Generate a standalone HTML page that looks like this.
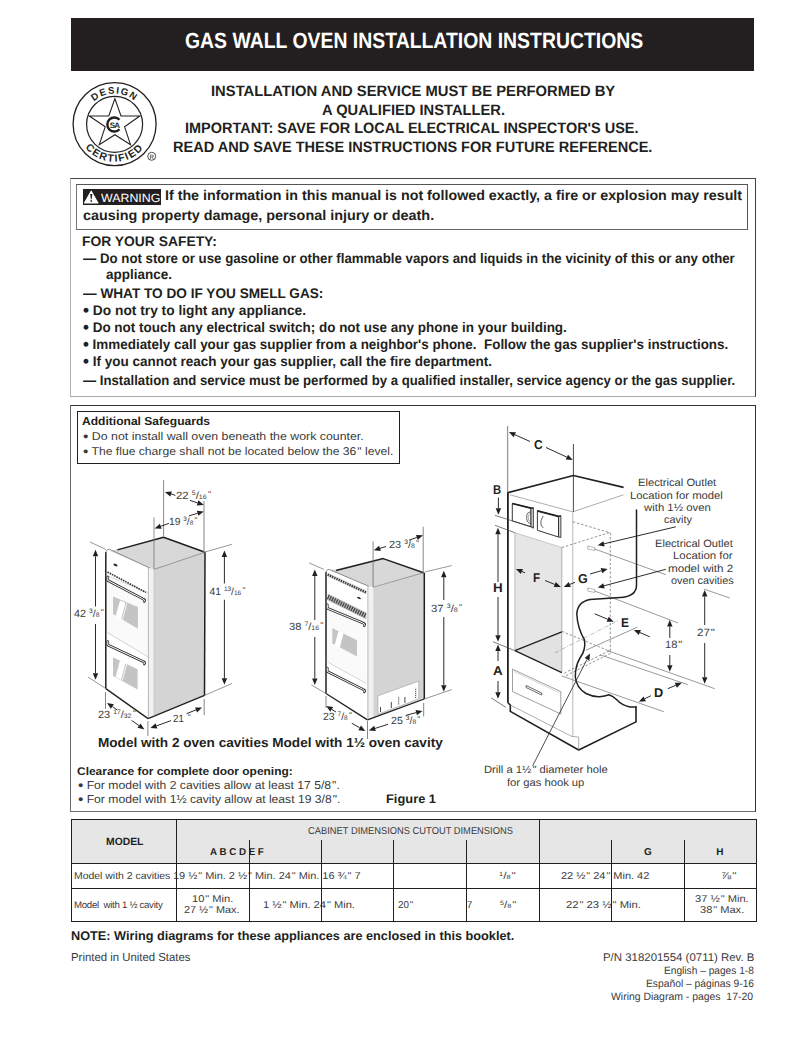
<!DOCTYPE html><html><head><meta charset="utf-8"><title>Gas Wall Oven Installation Instructions</title><style>
*{margin:0;padding:0;box-sizing:border-box}
html,body{width:802px;height:1037px;background:#fff;overflow:hidden}
body{position:relative;font-family:"Liberation Sans",sans-serif;color:#231f20;text-rendering:geometricPrecision}
.bx{position:absolute}
.t{position:absolute;white-space:pre;line-height:1;transform-origin:0 0}
.n{font-size:62%;vertical-align:0.55em;line-height:0}
.d{font-size:62%;line-height:0}
.q{font-size:80%;vertical-align:0.25em;margin-left:0.15em;line-height:0}
.bu{font-size:125%;line-height:0;vertical-align:-0.04em}
</style></head><body>
<div class="bx" style="left:71px;top:18px;width:683px;height:52.5px;background:#231f20"></div>
<div class="bx" style="left:70.4px;top:178px;width:685.6px;height:219px;border:1.1px solid;border-color:#454545 #404040 #a8a8a8 #b0b0b0"></div>
<div class="bx" style="left:76.1px;top:184.1px;width:671.7px;height:45.6px;border:1px solid;border-color:#555 #555 #666 #777"></div>
<div class="bx" style="left:83px;top:189px;width:77.8px;height:15.6px;background:#231f20"></div>
<svg style="position:absolute;left:0;top:0" width="802" height="1037"><polygon points="91.2,191.2 97.9,203 84.5,203" fill="#fff" stroke="#fff" stroke-width="1.2" stroke-linejoin="round"/><polygon points="90.2,194 92.3,194 91.7,199.3 90.8,199.3" fill="#231f20"/><rect x="90.5" y="200.2" width="1.5" height="1.6" fill="#231f20"/></svg>
<div class="bx" style="left:70.2px;top:404.8px;width:685.9px;height:407.1px;border:1.1px solid;border-color:#333 #333 #707070 #6a6a6a"></div>
<div class="bx" style="left:76.8px;top:411.4px;width:323.59999999999997px;height:52.400000000000034px;border:1px solid #231f20;"></div>
<div class="bx" style="left:71.4px;top:819.4px;width:685px;height:44px;background:#e6e6e6"></div>

<svg style="position:absolute;left:0;top:0" width="802" height="1037" viewBox="0 0 802 1037">
 <defs>
  <path id="arcT" d="M 83.8,124.3 A 30.8,30.8 0 0 1 145.4,124.3"/>
  <path id="arcB" d="M 77.1,124.3 A 37.5,37.5 0 0 0 152.1,124.3"/>
 </defs>
 <circle cx="114.6" cy="124.1" r="41.5" fill="none" stroke="#231f20" stroke-width="1.3"/>
 <circle cx="114.6" cy="124.3" r="28" fill="none" stroke="#231f20" stroke-width="1.2"/>
 <polygon points="114.9,98.6 121,116 139.8,116 124.6,126.8 130.5,144.7 114.9,134.7 99.3,144.7 105.2,126.8 89.3,116 108.8,116" fill="none" stroke="#231f20" stroke-width="1.1" stroke-linejoin="miter"/>
 <circle cx="113.8" cy="124.5" r="6.6" fill="#fff"/>
 <path d="M 119.5,119.8 A 7,7 0 1 0 119.5,129.2" fill="none" stroke="#231f20" stroke-width="2.4"/>
 <text x="114.6" y="127.6" font-family="Liberation Sans" font-weight="bold" font-size="8" text-anchor="middle" fill="#231f20" letter-spacing="-0.6">SA</text>
 <text font-family="Liberation Sans" font-weight="bold" font-size="9.6" fill="#231f20" letter-spacing="1.4"><textPath href="#arcT" startOffset="50%" text-anchor="middle">DESIGN</textPath></text>
 <text font-family="Liberation Sans" font-weight="bold" font-size="10.4" fill="#231f20" letter-spacing="1.4"><textPath href="#arcB" startOffset="50%" text-anchor="middle">CERTIFIED</textPath></text>
 <circle cx="151.7" cy="156.3" r="4" fill="none" stroke="#231f20" stroke-width="0.8"/>
 <text x="151.8" y="158.6" font-family="Liberation Sans" font-size="6.2" text-anchor="middle" fill="#231f20">R</text>
</svg>
<svg style="position:absolute;left:0;top:0" width="802" height="1037" viewBox="0 0 802 1037"><polygon points="110,551 163.5,537.2 205,552.2 154.1,569.4 149.6,568" fill="#d8d8d8" stroke="none" stroke-width="0.8" />
<polygon points="154.1,569.4 205,552.2 204.5,695.4 154.1,715.6" fill="#d4d4d4" stroke="none" stroke-width="0.8" />
<polygon points="149.6,568 154.1,569.4 154.1,715.6 148.1,718.6" fill="#f1f1f1" stroke="none" stroke-width="0.8" />
<polygon points="106,575 148.9,593.2 148.9,657.3 106,631.8" fill="#fafafa" stroke="none" stroke-width="0.8" />
<polygon points="113,596.4 137.9,606.9 137.9,628.8 113,613.9" fill="#c4c4c4" stroke="none" stroke-width="0.8" />
<polygon points="113,657.2 137.6,669.2 137.6,689.4 113,675.9" fill="#c4c4c4" stroke="none" stroke-width="0.8" />
<polygon points="120,600.4 125.5,602.8 121,619.5 115.5,616.5" fill="#fff" stroke="none" stroke-width="0.8" />
<polygon points="120,660.5 125.5,663 121,680 115.5,677" fill="#fff" stroke="none" stroke-width="0.8" />
<line x1="126.8" y1="603.5" x2="122.3" y2="620" stroke="#fff" stroke-width="0.8" />
<line x1="126.8" y1="663.7" x2="122.3" y2="680.5" stroke="#fff" stroke-width="0.8" />
<polyline points="117.4,549.9 163.5,537.2 205,552.2" stroke="#231f20" stroke-width="1.5" fill="none" stroke-linejoin="round" />
<line x1="205" y1="552.2" x2="204.5" y2="695.4" stroke="#231f20" stroke-width="1.5" />
<line x1="154.1" y1="569.4" x2="205" y2="552.2" stroke="#666" stroke-width="0.6" />
<line x1="148.1" y1="718.6" x2="204.5" y2="695.4" stroke="#231f20" stroke-width="1.3" />
<line x1="105.8" y1="552" x2="105.8" y2="688.6" stroke="#231f20" stroke-width="1.5" />
<line x1="105.8" y1="688.6" x2="148.1" y2="718.6" stroke="#231f20" stroke-width="1.3" />
<path d="M105.8,553 Q106,549 109.5,549.3 L149.6,567.9" stroke="#777" stroke-width="0.8" fill="none" stroke-linecap="round" stroke-linejoin="round" />
<line x1="148.4" y1="568" x2="148.4" y2="718.4" stroke="#888" stroke-width="0.6" />
<line x1="154.1" y1="569.4" x2="154.1" y2="715.6" stroke="#aaa" stroke-width="0.5" />
<line x1="106" y1="575" x2="148.9" y2="593.2" stroke="#aaa" stroke-width="0.5" />
<line x1="106" y1="631.8" x2="148.9" y2="657.3" stroke="#aaa" stroke-width="0.5" />
<line x1="107.5" y1="572" x2="145.9" y2="592.4" stroke="#333" stroke-width="1.6" stroke-dasharray="1.6,0.9"/>
<ellipse cx="115.5" cy="565" rx="2.2" ry="1" fill="#222" transform="rotate(25 115.5 565)"/>
<path d="M107.8,577 L107.8,580.5 L142.5,598.6999999999999 Q146,599.9 144.2,601.5" stroke="#333" stroke-width="2.6" fill="none" stroke-linecap="round" stroke-linejoin="round" />
<path d="M107.8,577 L107.8,580.5 L142.5,598.6999999999999 Q146,599.9 144.2,601.5" stroke="#fff" stroke-width="1.0" fill="none" stroke-linecap="round" stroke-linejoin="round" />
<path d="M107.8,641.5 L107.8,645.0 L142.5,661.1999999999999 Q146,662.4 144.2,664.0" stroke="#333" stroke-width="2.6" fill="none" stroke-linecap="round" stroke-linejoin="round" />
<path d="M107.8,641.5 L107.8,645.0 L142.5,661.1999999999999 Q146,662.4 144.2,664.0" stroke="#fff" stroke-width="1.0" fill="none" stroke-linecap="round" stroke-linejoin="round" />
<line x1="163.6" y1="480" x2="163.6" y2="536" stroke="#6a6a6a" stroke-width="0.8" />
<line x1="154" y1="517.4" x2="154" y2="569.4" stroke="#777" stroke-width="0.8" />
<line x1="204" y1="501" x2="204" y2="552" stroke="#9a9a9a" stroke-width="1.2" />
<line x1="175.4" y1="495.4" x2="171.08388186152257" y2="494.002399840874" stroke="#231f20" stroke-width="0.95" />
<polygon points="164.9,492 171.92,491.43 170.25,496.57" fill="#231f20" stroke="none" stroke-width="0.8" />
<line x1="189.9" y1="500.4" x2="197.61599397053396" y2="502.8979836595254" stroke="#231f20" stroke-width="0.95" />
<polygon points="203.8,504.9 196.78,505.47 198.45,500.33" fill="#231f20" stroke="none" stroke-width="0.8" />
<line x1="168.9" y1="523.4" x2="160.73574795252765" y2="526.2546335830323" stroke="#231f20" stroke-width="0.95" />
<polygon points="154.6,528.4 159.84,523.71 161.63,528.8" fill="#231f20" stroke="none" stroke-width="0.8" />
<line x1="188.9" y1="515.9" x2="197.5775879245541" y2="513.2792519690944" stroke="#231f20" stroke-width="0.95" />
<polygon points="203.8,511.4 198.36,515.86 196.8,510.69" fill="#231f20" stroke="none" stroke-width="0.8" />
<line x1="90" y1="542" x2="106" y2="549.5" stroke="#6a6a6a" stroke-width="0.7" />
<line x1="205" y1="552" x2="232" y2="544.3" stroke="#6a6a6a" stroke-width="0.7" />
<line x1="95.5" y1="606.5" x2="95.5" y2="556.3" stroke="#231f20" stroke-width="0.95" />
<polygon points="95.5,549.8 98.2,556.3 92.8,556.3" fill="#231f20" stroke="none" stroke-width="0.8" />
<line x1="95.5" y1="624" x2="95.5" y2="673.3" stroke="#231f20" stroke-width="0.95" />
<polygon points="95.5,679.8 92.8,673.3 98.2,673.3" fill="#231f20" stroke="none" stroke-width="0.8" />
<line x1="224.4" y1="583.4" x2="224.4" y2="557.0" stroke="#231f20" stroke-width="0.95" />
<polygon points="224.4,550.5 227.1,557.0 221.7,557.0" fill="#231f20" stroke="none" stroke-width="0.8" />
<line x1="224.4" y1="599.8" x2="224.4" y2="678.3" stroke="#231f20" stroke-width="0.95" />
<polygon points="224.4,684.8 221.7,678.3 227.1,678.3" fill="#231f20" stroke="none" stroke-width="0.8" />
<line x1="88" y1="677" x2="105.8" y2="688.6" stroke="#6a6a6a" stroke-width="0.7" />
<line x1="204.5" y1="695.4" x2="232" y2="683.5" stroke="#6a6a6a" stroke-width="0.7" />
<line x1="105.5" y1="692" x2="105.5" y2="709" stroke="#6a6a6a" stroke-width="0.8" />
<line x1="147.9" y1="721" x2="147.9" y2="736" stroke="#6a6a6a" stroke-width="0.8" />
<line x1="204.2" y1="699" x2="204.2" y2="715" stroke="#9a9a9a" stroke-width="1.2" />
<line x1="117.4" y1="710" x2="112.36829264599336" y2="706.5648920948609" stroke="#231f20" stroke-width="0.95" />
<polygon points="107,702.9 113.89,704.33 110.85,708.79" fill="#231f20" stroke="none" stroke-width="0.8" />
<line x1="131.6" y1="720.4" x2="139.08281047049007" y2="725.6613511120634" stroke="#231f20" stroke-width="0.95" />
<polygon points="144.4,729.4 137.53,727.87 140.64,723.45" fill="#231f20" stroke="none" stroke-width="0.8" />
<line x1="171" y1="720.6" x2="156.5077911108009" y2="725.8762896441259" stroke="#231f20" stroke-width="0.95" />
<polygon points="150.4,728.1 155.58,723.34 157.43,728.41" fill="#231f20" stroke="none" stroke-width="0.8" />
<line x1="186.5" y1="713.7" x2="196.05957549703572" y2="709.9006815332294" stroke="#231f20" stroke-width="0.95" />
<polygon points="202.1,707.5 197.06,712.41 195.06,707.39" fill="#231f20" stroke="none" stroke-width="0.8" />
<polygon points="330,570.5 383.2,558.6 423.6,572.7 373.1,587.3 368.6,586.2" fill="#d8d8d8" stroke="none" stroke-width="0.8" />
<polygon points="373.2,587.8 424.3,572.5 424.3,699 373.2,717.4" fill="#d4d4d4" stroke="none" stroke-width="0.8" />
<polygon points="368.6,586.2 373.2,587.8 373.2,717.4 367.5,719.9" fill="#f1f1f1" stroke="none" stroke-width="0.8" />
<polygon points="327,603 366.3,621 366.3,683.5 327,661" fill="#fafafa" stroke="none" stroke-width="0.8" />
<polygon points="332.3,627.9 357,640.2 357,656.5 332.3,643.3" fill="#c4c4c4" stroke="none" stroke-width="0.8" />
<polygon points="338.5,630.9 343.5,633.4 339.5,648.5 334.5,645.8" fill="#fff" stroke="none" stroke-width="0.8" />
<polygon points="377.9,695.8 418.8,681.1 418.8,698.9 377.9,714.3" fill="#fff" stroke="#999" stroke-width="0.6" />
<line x1="380.5" y1="707.12" x2="380.5" y2="712.12" stroke="#333" stroke-width="0.9" />
<line x1="391.3" y1="702.05" x2="391.3" y2="708.05" stroke="#333" stroke-width="0.9" />
<line x1="398.7" y1="697.27" x2="398.7" y2="705.27" stroke="#333" stroke-width="0.9" stroke-dasharray="1.2,0.8"/>
<line x1="404.9" y1="696.93" x2="404.9" y2="702.93" stroke="#333" stroke-width="0.9" />
<line x1="415.7" y1="688.87" x2="415.7" y2="698.87" stroke="#333" stroke-width="0.9" stroke-dasharray="1.2,0.8"/>
<polyline points="336.1,570.5 383.2,558.6 423.6,572.7" stroke="#231f20" stroke-width="1.5" fill="none" stroke-linejoin="round" />
<line x1="424.3" y1="572.7" x2="424.3" y2="699" stroke="#231f20" stroke-width="1.5" />
<line x1="373.1" y1="587.3" x2="423.6" y2="572.7" stroke="#666" stroke-width="0.6" />
<line x1="367.5" y1="719.9" x2="424.3" y2="699" stroke="#231f20" stroke-width="1.3" />
<line x1="326" y1="572" x2="326" y2="693.5" stroke="#231f20" stroke-width="1.5" />
<line x1="326" y1="693.5" x2="367.5" y2="719.9" stroke="#231f20" stroke-width="1.3" />
<path d="M326,573 Q326,569 329.5,569.5 L368.6,586.2" stroke="#777" stroke-width="0.8" fill="none" stroke-linecap="round" stroke-linejoin="round" />
<line x1="367.9" y1="586.5" x2="367.9" y2="719.7" stroke="#888" stroke-width="0.6" />
<line x1="326" y1="661" x2="366.3" y2="683.5" stroke="#aaa" stroke-width="0.5" />
<polygon points="327.7,572.8 366.3,590.6 366.3,594.4 327.7,576.6" fill="#cfcfcf" stroke="none" stroke-width="0.8" />
<line x1="327.7" y1="574.7" x2="366.3" y2="592.5" stroke="#3a3a3a" stroke-width="2.4" stroke-dasharray="1.3,1.1"/>
<polygon points="327.7,593.5 366.3,612.6 366.3,619.4 327.7,600.3" fill="#bdbdbd" stroke="none" stroke-width="0.8" />
<line x1="327.7" y1="596.9" x2="366.3" y2="616" stroke="#444" stroke-width="4.6" stroke-dasharray="1.3,1.1"/>
<ellipse cx="359" cy="598" rx="2" ry="0.9" fill="#222" transform="rotate(25 359 598)"/>
<path d="M327.3,604.8 L327.3,608.3 L362.5,622.8 Q366,624 364.2,625.6" stroke="#333" stroke-width="2.6" fill="none" stroke-linecap="round" stroke-linejoin="round" />
<path d="M327.3,604.8 L327.3,608.3 L362.5,622.8 Q366,624 364.2,625.6" stroke="#fff" stroke-width="1.0" fill="none" stroke-linecap="round" stroke-linejoin="round" />
<path d="M327.3,668 L327.3,671.5 L362.5,689.1999999999999 Q366,690.4 364.2,692.0" stroke="#333" stroke-width="2.6" fill="none" stroke-linecap="round" stroke-linejoin="round" />
<path d="M327.3,668 L327.3,671.5 L362.5,689.1999999999999 Q366,690.4 364.2,692.0" stroke="#fff" stroke-width="1.0" fill="none" stroke-linecap="round" stroke-linejoin="round" />
<line x1="373.1" y1="541.3" x2="373.1" y2="587" stroke="#6a6a6a" stroke-width="0.8" />
<line x1="423.2" y1="526.7" x2="423.2" y2="572.7" stroke="#6a6a6a" stroke-width="0.8" />
<line x1="386" y1="546.5" x2="380.0059274111004" y2="548.3670062162146" stroke="#231f20" stroke-width="0.95" />
<polygon points="373.8,550.3 379.2,545.79 380.81,550.94" fill="#231f20" stroke="none" stroke-width="0.8" />
<line x1="409" y1="540.2" x2="416.8649206836209" y2="537.4472777607327" stroke="#231f20" stroke-width="0.95" />
<polygon points="423,535.3 417.76,540.0 415.97,534.9" fill="#231f20" stroke="none" stroke-width="0.8" />
<line x1="309.2" y1="563" x2="324" y2="569.4" stroke="#6a6a6a" stroke-width="0.7" />
<line x1="424.7" y1="572" x2="451.7" y2="565.6" stroke="#6a6a6a" stroke-width="0.7" />
<line x1="314.8" y1="620" x2="314.8" y2="576.1" stroke="#231f20" stroke-width="0.95" />
<polygon points="314.8,569.6 317.5,576.1 312.1,576.1" fill="#231f20" stroke="none" stroke-width="0.8" />
<line x1="314.8" y1="637" x2="314.8" y2="678.5" stroke="#231f20" stroke-width="0.95" />
<polygon points="314.8,685 312.1,678.5 317.5,678.5" fill="#231f20" stroke="none" stroke-width="0.8" />
<line x1="443.8" y1="600" x2="443.8" y2="577.2" stroke="#231f20" stroke-width="0.95" />
<polygon points="443.8,570.7 446.5,577.2 441.1,577.2" fill="#231f20" stroke="none" stroke-width="0.8" />
<line x1="443.8" y1="617" x2="443.8" y2="685.3" stroke="#231f20" stroke-width="0.95" />
<polygon points="443.8,691.8 441.1,685.3 446.5,685.3" fill="#231f20" stroke="none" stroke-width="0.8" />
<line x1="311.4" y1="685" x2="326" y2="693.5" stroke="#6a6a6a" stroke-width="0.7" />
<line x1="424.3" y1="699" x2="451.7" y2="689.6" stroke="#6a6a6a" stroke-width="0.7" />
<line x1="367.5" y1="721" x2="367.5" y2="739" stroke="#6a6a6a" stroke-width="0.8" />
<line x1="423.6" y1="703" x2="423.6" y2="716.5" stroke="#9a9a9a" stroke-width="1.2" />
<line x1="326" y1="696" x2="326" y2="708" stroke="#6a6a6a" stroke-width="0.8" />
<line x1="336" y1="712" x2="331.7435334764957" y2="709.3940000876504" stroke="#231f20" stroke-width="0.95" />
<polygon points="326.2,706 333.15,707.09 330.33,711.7" fill="#231f20" stroke="none" stroke-width="0.8" />
<line x1="351.8" y1="723.2" x2="359.6899641127041" y2="727.8170901103972" stroke="#231f20" stroke-width="0.95" />
<polygon points="365.3,731.1 358.33,730.15 361.05,725.49" fill="#231f20" stroke="none" stroke-width="0.8" />
<line x1="388" y1="724.3" x2="374.99486448121496" y2="728.4318399304473" stroke="#231f20" stroke-width="0.95" />
<polygon points="368.8,730.4 374.18,725.86 375.81,731.01" fill="#231f20" stroke="none" stroke-width="0.8" />
<line x1="405.7" y1="715.4" x2="416.22133766522893" y2="712.5817845539565" stroke="#231f20" stroke-width="0.95" />
<polygon points="422.5,710.9 416.92,715.19 415.52,709.97" fill="#231f20" stroke="none" stroke-width="0.8" />
<polygon points="514.9,532.7 561.8,547.5 561.8,672.7 514.9,650.7" fill="#e6e6e6" stroke="none" stroke-width="0.8" />
<polygon points="514.9,650.7 561.8,631.8 561.8,672.7" fill="#e2e2e2" stroke="none" stroke-width="0.8" />
<line x1="514.9" y1="532.7" x2="514.9" y2="650.7" stroke="#999" stroke-width="0.6" />
<line x1="561.8" y1="547.5" x2="561.8" y2="672.7" stroke="#888" stroke-width="0.6" />
<line x1="514.9" y1="650.7" x2="561.8" y2="631.8" stroke="#231f20" stroke-width="1.3" />
<line x1="514.9" y1="650.7" x2="561.8" y2="672.7" stroke="#231f20" stroke-width="1.3" />
<line x1="507.6" y1="426" x2="507.6" y2="493" stroke="#9a9a9a" stroke-width="1.3" />
<line x1="507.9" y1="492.8" x2="507.9" y2="702.8" stroke="#231f20" stroke-width="1.8" />
<polyline points="507.5,492.8 573.4,475.5 623.6,487.4" stroke="#231f20" stroke-width="1.6" fill="none" stroke-linejoin="round" />
<polyline points="509.9,494.8 572.8,511.8 623.6,494.8" stroke="#777" stroke-width="0.6" fill="none" stroke-linejoin="round" />
<line x1="573.4" y1="444" x2="573.4" y2="511.8" stroke="#333" stroke-width="0.9" />
<line x1="572.8" y1="511.8" x2="572.8" y2="736.5" stroke="#888" stroke-width="0.6" />
<line x1="530" y1="441.5" x2="514.8269640783495" y2="434.6685383291147" stroke="#231f20" stroke-width="0.95" />
<polygon points="508.9,432 515.94,432.21 513.72,437.13" fill="#231f20" stroke="none" stroke-width="0.8" />
<line x1="546" y1="447.5" x2="566.9008436305214" y2="457.1705395902412" stroke="#231f20" stroke-width="0.95" />
<polygon points="572.8,459.9 565.77,459.62 568.03,454.72" fill="#231f20" stroke="none" stroke-width="0.8" />
<polygon points="512.3,503.5 531,508.2 531,526.8 512.3,520.9" fill="#fff" stroke="#231f20" stroke-width="0.9" />
<polygon points="531,508.2 533.4,507.8 533.4,528.2 531,526.8" fill="#d0d0d0" stroke="#231f20" stroke-width="0.8" />
<line x1="512.3" y1="503.5" x2="531" y2="508.2" stroke="#231f20" stroke-width="1.8" />
<line x1="531" y1="508.2" x2="533.4" y2="507.8" stroke="#231f20" stroke-width="1.2" />
<polygon points="537.4,510.8 558.5,516.4 558.5,537 537.4,530.3" fill="#fff" stroke="#231f20" stroke-width="0.9" />
<polygon points="558.5,516.4 560.9,515.8 560.9,537.5 558.5,537" fill="#d0d0d0" stroke="#231f20" stroke-width="0.8" />
<line x1="537.4" y1="510.8" x2="558.5" y2="516.4" stroke="#231f20" stroke-width="1.8" />
<line x1="558.5" y1="516.4" x2="560.9" y2="515.8" stroke="#231f20" stroke-width="1.2" />
<path d="M530.6,512 Q526.6,511.6 526.6,517.4 Q526.6,523.2 530.6,523.6" stroke="#444" stroke-width="0.8" fill="none" stroke-linecap="round" stroke-linejoin="round" />
<path d="M530.6,513.6 Q528.2,513.4 528.2,517.6 Q528.2,521.8 530.6,522" stroke="#666" stroke-width="0.6" fill="none" stroke-linecap="round" stroke-linejoin="round" />
<path d="M543,516.2 Q539.8,520.5 541,525 Q541.8,527.2 543,527.4" stroke="#444" stroke-width="0.8" fill="none" stroke-linecap="round" stroke-linejoin="round" />
<line x1="498.4" y1="497.5" x2="498.4" y2="508.29999999999995" stroke="#231f20" stroke-width="0.95" />
<polygon points="498.4,514.8 495.7,508.3 501.1,508.3" fill="#231f20" stroke="none" stroke-width="0.8" />
<line x1="495" y1="515.4" x2="533.9" y2="527.7" stroke="#444" stroke-width="0.7" />
<line x1="495" y1="525.3" x2="514.9" y2="532.7" stroke="#444" stroke-width="0.7" />
<line x1="514.9" y1="532.7" x2="561.8" y2="547.5" stroke="#aaa" stroke-width="0.6" />
<line x1="498" y1="582" x2="498.0" y2="534.2" stroke="#231f20" stroke-width="0.95" />
<polygon points="498,527.7 500.7,534.2 495.3,534.2" fill="#231f20" stroke="none" stroke-width="0.8" />
<line x1="498" y1="597" x2="498.0" y2="635.2" stroke="#231f20" stroke-width="0.95" />
<polygon points="498,641.7 495.3,635.2 500.7,635.2" fill="#231f20" stroke="none" stroke-width="0.8" />
<line x1="493" y1="641.7" x2="514.9" y2="650.7" stroke="#444" stroke-width="0.7" />
<line x1="498" y1="661" x2="498.0" y2="651.0" stroke="#231f20" stroke-width="0.95" />
<polygon points="498,644.5 500.7,651.0 495.3,651.0" fill="#231f20" stroke="none" stroke-width="0.8" />
<line x1="498" y1="681" x2="498.0" y2="692.3" stroke="#231f20" stroke-width="0.95" />
<polygon points="498,698.8 495.3,692.3 500.7,692.3" fill="#231f20" stroke="none" stroke-width="0.8" />
<line x1="491.2" y1="697.9" x2="505.8" y2="707.3" stroke="#444" stroke-width="0.7" />
<line x1="525" y1="572.8" x2="521.8744426951174" y2="571.4604754407645" stroke="#231f20" stroke-width="0.95" />
<polygon points="515.9,568.9 522.94,568.98 520.81,573.94" fill="#231f20" stroke="none" stroke-width="0.8" />
<line x1="545" y1="580.5" x2="554.775477390098" y2="584.4596870440903" stroke="#231f20" stroke-width="0.95" />
<polygon points="560.8,586.9 553.76,586.96 555.79,581.96" fill="#231f20" stroke="none" stroke-width="0.8" />
<line x1="575" y1="582.3" x2="569.8126288194599" y2="584.4305274491503" stroke="#231f20" stroke-width="0.95" />
<polygon points="563.8,586.9 568.79,581.93 570.84,586.93" fill="#231f20" stroke="none" stroke-width="0.8" />
<line x1="590" y1="574" x2="601.4541047962241" y2="570.699664719732" stroke="#231f20" stroke-width="0.95" />
<polygon points="607.7,568.9 602.2,573.29 600.71,568.11" fill="#231f20" stroke="none" stroke-width="0.8" />
<line x1="572.8" y1="521.7" x2="609.7" y2="532.7" stroke="#666" stroke-width="0.7" stroke-dasharray="2.5,1.8"/>
<line x1="610.3" y1="532.7" x2="610.3" y2="652" stroke="#666" stroke-width="0.7" stroke-dasharray="2.5,1.8"/>
<line x1="561.8" y1="631.3" x2="610.3" y2="651.5" stroke="#666" stroke-width="0.7" stroke-dasharray="2.5,1.8"/>
<line x1="564.4" y1="673.1" x2="610.3" y2="650.2" stroke="#666" stroke-width="0.7" stroke-dasharray="2.5,1.8"/>
<line x1="566" y1="675.6" x2="611.5" y2="652.8" stroke="#666" stroke-width="0.7" stroke-dasharray="2.5,1.8"/>
<line x1="561.8" y1="547.5" x2="610.3" y2="532.3" stroke="#666" stroke-width="0.7" stroke-dasharray="2.5,1.8"/>
<line x1="555" y1="652.9" x2="618.4" y2="620.5" stroke="#777" stroke-width="0.5" stroke-dasharray="4,1.5,1,1.5"/>
<line x1="586" y1="650.2" x2="637.3" y2="627.2" stroke="#555" stroke-width="0.6" />
<polygon points="587.7,546 594.7,547.5 594.7,550.5 587.7,549" fill="#fff" stroke="#888" stroke-width="0.6" />
<polygon points="587.7,588 594.7,589.5 594.7,592.5 587.7,591" fill="#fff" stroke="#888" stroke-width="0.6" />
<line x1="594.7" y1="549" x2="665.8" y2="574.7" stroke="#555" stroke-width="0.6" />
<line x1="594.7" y1="591" x2="677.8" y2="622.9" stroke="#555" stroke-width="0.6" />
<line x1="675.8" y1="526.8" x2="604.0249740706953" y2="543.801766705405" stroke="#231f20" stroke-width="0.95" />
<polygon points="597.7,545.3 603.4,541.17 604.65,546.43" fill="#231f20" stroke="none" stroke-width="0.8" />
<line x1="665.8" y1="569.3" x2="603.9796078738691" y2="585.8217494375269" stroke="#231f20" stroke-width="0.95" />
<polygon points="597.7,587.5 603.28,583.21 604.68,588.43" fill="#231f20" stroke="none" stroke-width="0.8" />
<path d="M636.5,509.9 L636.5,585 Q636.5,596.5 620,597.6 L590,599.6 Q577.5,602 576.8,614 Q577.5,628 584.5,640 Q586,650 580,658 Q575.2,666 575.3,677 Q576.5,688 586,693.5 Q593,697 599.5,696.7 Q605,696 609,694.7 Q613,696 616.5,699.5 Q622,705.5 630,706.9 L636,706.9" stroke="#231f20" stroke-width="1.5" fill="none" stroke-linecap="round" stroke-linejoin="round" />
<polyline points="508,702.8 510.3,705 510.3,711.4 578.7,750 636,721.9 636,706.2" stroke="#231f20" stroke-width="1.6" fill="none" stroke-linejoin="round" />
<polyline points="510.3,705 572,736.5 578.7,737 578.7,750" stroke="#777" stroke-width="0.6" fill="none" stroke-linejoin="round" />
<polygon points="512.5,669.2 560.8,691.6 560.8,714 512.5,691.6" fill="#fff" stroke="#777" stroke-width="0.7" />
<polyline points="514,671.5 559.5,692.8" stroke="#aaa" stroke-width="0.5" fill="none" stroke-linejoin="round" />
<polygon points="526,685.5 541.7,693 541.7,695 526,687.5" fill="#fff" stroke="#444" stroke-width="0.8" />
<line x1="594.7" y1="613.8" x2="607.7093700616026" y2="619.2776294996221" stroke="#231f20" stroke-width="0.95" />
<polygon points="613.7,621.8 606.66,621.77 608.76,616.79" fill="#231f20" stroke="none" stroke-width="0.8" />
<line x1="649.9" y1="636.9" x2="639.8550226768642" y2="632.5053224211281" stroke="#231f20" stroke-width="0.95" />
<polygon points="633.9,629.9 640.94,630.03 638.77,634.98" fill="#231f20" stroke="none" stroke-width="0.8" />
<line x1="669.8" y1="638" x2="669.8" y2="626.4" stroke="#231f20" stroke-width="0.95" />
<polygon points="669.8,619.9 672.5,626.4 667.1,626.4" fill="#231f20" stroke="none" stroke-width="0.8" />
<line x1="669.8" y1="655" x2="669.8" y2="665.3" stroke="#231f20" stroke-width="0.95" />
<polygon points="669.8,671.8 667.1,665.3 672.5,665.3" fill="#231f20" stroke="none" stroke-width="0.8" />
<line x1="704.7" y1="625" x2="704.7" y2="596.5" stroke="#231f20" stroke-width="0.95" />
<polygon points="704.7,590 707.4,596.5 702.0,596.5" fill="#231f20" stroke="none" stroke-width="0.8" />
<line x1="704.7" y1="643" x2="704.7" y2="677.2" stroke="#231f20" stroke-width="0.95" />
<polygon points="704.7,683.7 702.0,677.2 707.4,677.2" fill="#231f20" stroke="none" stroke-width="0.8" />
<line x1="608" y1="650.8" x2="714.7" y2="688.7" stroke="#555" stroke-width="0.6" />
<line x1="600" y1="654.8" x2="687.8" y2="684.7" stroke="#555" stroke-width="0.6" />
<line x1="561.8" y1="676" x2="663.8" y2="711.7" stroke="#555" stroke-width="0.6" />
<line x1="703.7" y1="589" x2="729.7" y2="598" stroke="#555" stroke-width="0.6" />
<line x1="650.9" y1="695.7" x2="644.7137767414995" y2="698.7931116292503" stroke="#231f20" stroke-width="0.95" />
<polygon points="638.9,701.7 643.51,696.38 645.92,701.21" fill="#231f20" stroke="none" stroke-width="0.8" />
<line x1="667.8" y1="688.7" x2="675.8255573048825" y2="685.2604754407646" stroke="#231f20" stroke-width="0.95" />
<polygon points="681.8,682.7 676.89,687.74 674.76,682.78" fill="#231f20" stroke="none" stroke-width="0.8" />
<line x1="532.7" y1="765.7" x2="587.0436872755243" y2="659.2888008322193" stroke="#231f20" stroke-width="0.8" />
<polygon points="590,653.5 589.45,660.52 584.64,658.06" fill="#231f20" stroke="none" stroke-width="0.8" /></svg>
<div class="t" id="t0" style="left:184.50px;top:30.00px;font-size:22px;font-weight:bold;color:#fff;transform:scaleX(0.8822);">GAS WALL OVEN INSTALLATION INSTRUCTIONS</div>
<div class="t" id="t1" style="left:210.71px;top:84.00px;font-size:15px;font-weight:bold;transform:scaleX(0.9852);">INSTALLATION AND SERVICE MUST BE PERFORMED BY</div>
<div class="t" id="t2" style="left:321.63px;top:103.00px;font-size:15px;font-weight:bold;transform:scaleX(0.9808);">A QUALIFIED INSTALLER.</div>
<div class="t" id="t3" style="left:185.03px;top:121.00px;font-size:15px;font-weight:bold;transform:scaleX(0.9656);">IMPORTANT: SAVE FOR LOCAL ELECTRICAL INSPECTOR'S USE.</div>
<div class="t" id="t4" style="left:172.63px;top:140.00px;font-size:15px;font-weight:bold;transform:scaleX(0.9684);">READ AND SAVE THESE INSTRUCTIONS FOR FUTURE REFERENCE.</div>
<div class="t" id="t5" style="left:164.55px;top:188.00px;font-size:14px;font-weight:bold;transform:scaleX(1.0180);">If the information in this manual is not followed exactly, a fire or explosion may result</div>
<div class="t" id="t6" style="left:82.64px;top:208.00px;font-size:14px;font-weight:bold;transform:scaleX(1.0282);">causing property damage, personal injury or death.</div>
<div class="t" id="t7" style="left:100.55px;top:192.00px;font-size:12px;color:#fff;transform:scaleX(1.0316);">WARNING</div>
<div class="t" id="t8" style="left:82.27px;top:235.00px;font-size:13.8px;font-weight:bold;transform:scaleX(1.0041);">FOR YOUR SAFETY:</div>
<div class="t" id="t9" style="left:82.50px;top:252.00px;font-size:13.9px;font-weight:bold;transform:scaleX(0.9542);">— Do not store or use gasoline or other flammable vapors and liquids in the vicinity of this or any other</div>
<div class="t" id="t10" style="left:105.70px;top:268.00px;font-size:13.9px;font-weight:bold;transform:scaleX(0.9704);">appliance.</div>
<div class="t" id="t11" style="left:82.50px;top:287.00px;font-size:13.9px;font-weight:bold;transform:scaleX(0.9806);">— WHAT TO DO IF YOU SMELL GAS:</div>
<div class="t" id="t12" style="left:83.26px;top:304.00px;font-size:13.9px;font-weight:bold;transform:scaleX(0.9903);"><span class="bu">•</span> Do not try to light any appliance.</div>
<div class="t" id="t13" style="left:83.27px;top:321.00px;font-size:13.9px;font-weight:bold;transform:scaleX(0.9707);"><span class="bu">•</span> Do not touch any electrical switch; do not use any phone in your building.</div>
<div class="t" id="t14" style="left:83.27px;top:338.00px;font-size:13.9px;font-weight:bold;transform:scaleX(0.9671);"><span class="bu">•</span> Immediately call your gas supplier from a neighbor's phone.&nbsp; Follow the gas supplier's instructions.</div>
<div class="t" id="t15" style="left:83.27px;top:355.00px;font-size:13.9px;font-weight:bold;transform:scaleX(0.9726);"><span class="bu">•</span> If you cannot reach your gas supplier, call the fire department.</div>
<div class="t" id="t16" style="left:82.50px;top:374.00px;font-size:13.9px;font-weight:bold;transform:scaleX(0.9472);">— Installation and service must be performed by a qualified installer, service agency or the gas supplier.</div>
<div class="t" id="t17" style="left:82.40px;top:416.00px;font-size:11.6px;font-weight:bold;transform:scaleX(1.0402);">Additional Safeguards</div>
<div class="t" id="t18" style="left:82.91px;top:432.00px;font-size:11.3px;color:#3a3a3a;transform:scaleX(1.0932);"><span class="bu">•</span> Do not install wall oven beneath the work counter.</div>
<div class="t" id="t19" style="left:82.92px;top:447.00px;font-size:11.3px;color:#3a3a3a;transform:scaleX(1.0757);"><span class="bu">•</span> The flue charge shall not be located below the 36 " level.</div>
<div class="t" id="t20" style="left:97.79px;top:736.00px;font-size:13.2px;font-weight:bold;transform:scaleX(1.0294);">Model with 2 oven cavities Model with 1½ oven cavity</div>
<div class="t" id="t21" style="left:77.01px;top:767.00px;font-size:11.2px;font-weight:bold;transform:scaleX(1.0679);">Clearance for complete door opening:</div>
<div class="t" id="t22" style="left:77.52px;top:780.00px;font-size:11.6px;color:#3a3a3a;transform:scaleX(1.0476);"><span class="bu">•</span> For model with 2 cavities allow at least 17 5/8 ".</div>
<div class="t" id="t23" style="left:77.52px;top:794.00px;font-size:11.6px;color:#3a3a3a;transform:scaleX(1.0473);"><span class="bu">•</span> For model with 1½ cavity allow at least 19 3/8 ".</div>
<div class="t" id="t24" style="left:385.94px;top:793.00px;font-size:12.4px;font-weight:bold;transform:scaleX(1.0377);">Figure 1</div>
<div class="t" id="t25" style="left:483.58px;top:765.00px;font-size:10.6px;color:#3a3a3a;transform:scaleX(1.0617);">Drill a 1½ " diameter hole</div>
<div class="t" id="t26" style="left:506.84px;top:778.00px;font-size:10.6px;color:#3a3a3a;transform:scaleX(1.0589);">for gas hook up</div>
<div class="t" id="t27" style="left:637.98px;top:478.00px;font-size:10.6px;color:#3a3a3a;transform:scaleX(1.0541);">Electrical Outlet</div>
<div class="t" id="t28" style="left:629.97px;top:491.00px;font-size:10.6px;color:#3a3a3a;transform:scaleX(1.0657);">Location for model</div>
<div class="t" id="t29" style="left:643.92px;top:503.00px;font-size:10.6px;color:#3a3a3a;transform:scaleX(1.0718);">with 1½ oven</div>
<div class="t" id="t30" style="left:664.34px;top:515.00px;font-size:10.6px;color:#3a3a3a;transform:scaleX(1.0292);">cavity</div>
<div class="t" id="t31" style="left:654.99px;top:539.00px;font-size:10.6px;color:#3a3a3a;transform:scaleX(1.0486);">Electrical Outlet</div>
<div class="t" id="t32" style="left:673.26px;top:551.00px;font-size:10.6px;color:#3a3a3a;transform:scaleX(1.0771);">Location for</div>
<div class="t" id="t33" style="left:668.03px;top:564.00px;font-size:10.6px;color:#3a3a3a;transform:scaleX(1.0970);">model with 2</div>
<div class="t" id="t34" style="left:670.94px;top:576.00px;font-size:10.6px;color:#3a3a3a;transform:scaleX(1.0245);">oven cavities</div>
<div class="t" id="t35" style="left:533.80px;top:439.00px;font-size:12.8px;font-weight:bold;transform:scaleX(0.9433);">C</div>
<div class="t" id="t36" style="left:493.44px;top:484.00px;font-size:12.8px;font-weight:bold;transform:scaleX(0.8832);">B</div>
<div class="t" id="t37" style="left:493.30px;top:582.00px;font-size:12.8px;font-weight:bold;transform:scaleX(1.0490);">H</div>
<div class="t" id="t38" style="left:532.72px;top:572.00px;font-size:12.8px;font-weight:bold;transform:scaleX(0.9073);">F</div>
<div class="t" id="t39" style="left:577.98px;top:573.00px;font-size:12.8px;font-weight:bold;transform:scaleX(0.9827);">G</div>
<div class="t" id="t40" style="left:493.27px;top:665.00px;font-size:12.8px;font-weight:bold;transform:scaleX(1.0473);">A</div>
<div class="t" id="t41" style="left:621.40px;top:617.00px;font-size:12.8px;font-weight:bold;transform:scaleX(0.9318);">E</div>
<div class="t" id="t42" style="left:654.35px;top:687.00px;font-size:12.8px;font-weight:bold;transform:scaleX(0.9928);">D</div>
<div class="t" id="t43" style="left:664.95px;top:640.00px;font-size:10.6px;color:#3a3a3a;transform:scaleX(1.0540);">18 "</div>
<div class="t" id="t44" style="left:697.22px;top:628.00px;font-size:10.6px;color:#3a3a3a;transform:scaleX(1.0936);">27 "</div>
<div class="t" id="t45" style="left:176.33px;top:492.00px;font-size:10.4px;color:#3a3a3a;transform:scaleX(1.0883);">22 <span class="n">5</span>/<span class="d">16</span><span class="q">"</span></div>
<div class="t" id="t46" style="left:169.12px;top:518.00px;font-size:10.4px;color:#3a3a3a;transform:scaleX(0.9860);">19 <span class="n">3</span>/<span class="d">8</span><span class="q">"</span></div>
<div class="t" id="t47" style="left:209.46px;top:588.00px;font-size:10.4px;color:#3a3a3a;">41 <span class="n">13</span>/<span class="d">16</span><span class="q">"</span></div>
<div class="t" id="t48" style="left:74.35px;top:610.00px;font-size:10.4px;color:#3a3a3a;transform:scaleX(1.0379);">42 <span class="n">3</span>/<span class="d">8</span><span class="q">"</span></div>
<div class="t" id="t49" style="left:97.95px;top:711.00px;font-size:10.4px;color:#3a3a3a;transform:scaleX(1.0541);">23 <span class="n">17</span>/<span class="d">32</span><span class="q">"</span></div>
<div class="t" id="t50" style="left:172.51px;top:715.00px;font-size:10.4px;color:#3a3a3a;transform:scaleX(0.9335);">21 <span class="q">"</span></div>
<div class="t" id="t51" style="left:388.95px;top:541.00px;font-size:10.4px;color:#3a3a3a;transform:scaleX(1.0485);">23 <span class="n">3</span>/<span class="d">8</span><span class="q">"</span></div>
<div class="t" id="t52" style="left:289.08px;top:623.00px;font-size:10.4px;color:#3a3a3a;transform:scaleX(1.0681);">38 <span class="n">7</span>/<span class="d">16</span><span class="q">"</span></div>
<div class="t" id="t53" style="left:431.17px;top:605.00px;font-size:10.4px;color:#3a3a3a;transform:scaleX(1.0904);">37 <span class="n">3</span>/<span class="d">8</span><span class="q">"</span></div>
<div class="t" id="t54" style="left:323.17px;top:713.00px;font-size:10.4px;color:#3a3a3a;transform:scaleX(1.0089);">23 <span class="n">7</span>/<span class="d">8</span><span class="q">"</span></div>
<div class="t" id="t55" style="left:390.76px;top:717.00px;font-size:10.4px;color:#3a3a3a;transform:scaleX(1.0233);">25 <span class="n">3</span>/<span class="d">8</span><span class="q">"</span></div>
<div class="t" id="t56" style="left:307.83px;top:827.00px;font-size:10px;color:#3a3a3a;transform:scaleX(0.9336);">CABINET DIMENSIONS CUTOUT DIMENSIONS</div>
<div class="t" id="t57" style="left:105.71px;top:837.00px;font-size:10.5px;font-weight:bold;transform:scaleX(0.9865);">MODEL</div>
<div class="t" id="t58" style="left:209.56px;top:848.00px;font-size:10px;font-weight:bold;transform:scaleX(0.9749);">A B C D E F</div>
<div class="t" id="t59" style="left:644.09px;top:848.00px;font-size:10px;font-weight:bold;">G</div>
<div class="t" id="t60" style="left:716.33px;top:848.00px;font-size:10px;font-weight:bold;">H</div>
<div class="t" id="t61" style="left:73.94px;top:872.00px;font-size:10px;color:#3a3a3a;transform:scaleX(1.0430);">Model with 2 cavities</div>
<div class="t" id="t62" style="left:173.47px;top:872.00px;font-size:10px;color:#3a3a3a;transform:scaleX(1.0937);">19 ½ " Min. 2 ½ " Min. 24 " Min. 16 ¾ " 7</div>
<div class="t" id="t63" style="left:499.09px;top:872.00px;font-size:10px;color:#3a3a3a;transform:scaleX(1.1946);"><span class="n">1</span>/<span class="d">8</span> "</div>
<div class="t" id="t64" style="left:561.45px;top:872.00px;font-size:10px;color:#3a3a3a;transform:scaleX(1.0972);">22 ½ " 24 " Min. 42</div>
<div class="t" id="t65" style="left:720.99px;top:872.00px;font-size:10px;color:#3a3a3a;transform:scaleX(1.2196);">⅞ "</div>
<div class="t" id="t66" style="left:74.01px;top:901.00px;font-size:9.6px;color:#3a3a3a;letter-spacing:-0.3px;transform:scaleX(1.0072);">Model&nbsp; with 1 ½ cavity</div>
<div class="t" id="t67" style="left:192.15px;top:895.00px;font-size:10px;color:#3a3a3a;transform:scaleX(1.1095);">10 " Min.</div>
<div class="t" id="t68" style="left:184.05px;top:906.00px;font-size:10px;color:#3a3a3a;transform:scaleX(1.0853);">27 ½ " Max.</div>
<div class="t" id="t69" style="left:262.85px;top:901.00px;font-size:10px;color:#3a3a3a;transform:scaleX(1.1120);">1 ½ " Min. 24 " Min.</div>
<div class="t" id="t70" style="left:397.71px;top:901.00px;font-size:10px;color:#3a3a3a;transform:scaleX(0.9803);">20 "</div>
<div class="t" id="t71" style="left:466.69px;top:901.00px;font-size:10px;color:#3a3a3a;">7</div>
<div class="t" id="t72" style="left:499.53px;top:901.00px;font-size:10px;color:#3a3a3a;transform:scaleX(1.1620);"><span class="n">5</span>/<span class="d">8</span> "</div>
<div class="t" id="t73" style="left:566.43px;top:901.00px;font-size:10px;color:#3a3a3a;transform:scaleX(1.1262);">22 " 23 ½ " Min.</div>
<div class="t" id="t74" style="left:694.58px;top:895.00px;font-size:10px;color:#3a3a3a;transform:scaleX(1.1106);">37 ½ " Min.</div>
<div class="t" id="t75" style="left:699.58px;top:906.00px;font-size:10px;color:#3a3a3a;transform:scaleX(1.1067);">38 " Max.</div>
<div class="t" id="t76" style="left:70.95px;top:930.00px;font-size:12.6px;font-weight:bold;transform:scaleX(1.0088);">NOTE: Wiring diagrams for these appliances are enclosed in this booklet.</div>
<div class="t" id="t77" style="left:70.87px;top:952.00px;font-size:11.6px;color:#3a3a3a;transform:scaleX(0.9814);">Printed in United States</div>
<div class="t" id="t78" style="left:602.96px;top:953.00px;font-size:11.2px;color:#3a3a3a;transform:scaleX(1.0216);">P/N 318201554 (0711) Rev. B</div>
<div class="t" id="t79" style="left:664.37px;top:966.00px;font-size:10.6px;color:#3a3a3a;transform:scaleX(0.9596);">English – pages 1-8</div>
<div class="t" id="t80" style="left:645.76px;top:979.00px;font-size:10.6px;color:#3a3a3a;transform:scaleX(0.9710);">Español – páginas 9-16</div>
<div class="t" id="t81" style="left:611.25px;top:992.00px;font-size:10.6px;color:#3a3a3a;transform:scaleX(0.9847);">Wiring Diagram - pages&nbsp; 17-20</div>
<div class="bx" style="left:71.4px;top:819px;width:685.4px;height:103px;border:1.3px solid #231f20;"></div>
<div class="bx" style="left:71.4px;top:862.6px;width:685.4px;height:1.2px;background:#231f20"></div>
<div class="bx" style="left:71.4px;top:887.9px;width:685.4px;height:1.2px;background:#231f20"></div>
<div class="bx" style="left:176px;top:819.4px;width:1.2px;height:102.60000000000002px;background:#231f20"></div>
<div class="bx" style="left:539px;top:819.4px;width:1.2px;height:102.60000000000002px;background:#231f20"></div>
<div class="bx" style="left:248.8px;top:840.3px;width:1.2px;height:81.70000000000005px;background:#231f20"></div>
<div class="bx" style="left:321px;top:840.3px;width:1.2px;height:81.70000000000005px;background:#231f20"></div>
<div class="bx" style="left:393.3px;top:840.3px;width:1.2px;height:81.70000000000005px;background:#231f20"></div>
<div class="bx" style="left:466.1px;top:840.3px;width:1.2px;height:81.70000000000005px;background:#231f20"></div>
<div class="bx" style="left:611.3px;top:840.3px;width:1.2px;height:81.70000000000005px;background:#231f20"></div>
<div class="bx" style="left:684px;top:840.3px;width:1.2px;height:81.70000000000005px;background:#231f20"></div>
</body></html>
